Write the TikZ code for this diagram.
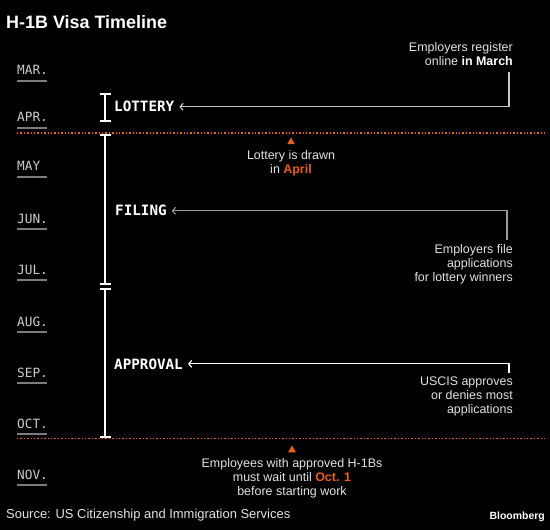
\documentclass[tikz,border=0pt]{standalone}
\usepackage{fontspec}
\setmainfont{Liberation Sans}
\newfontfamily\monofont{DejaVu Sans Mono}
\usetikzlibrary{arrows.meta,positioning,calc,shapes.geometric}
\definecolor{fog}{HTML}{E2E2E2}
\definecolor{rule}{HTML}{7C7C7C}
\definecolor{haze}{HTML}{C8C8C8}
\definecolor{slate}{HTML}{9A9A9A}
\definecolor{ember}{HTML}{E8601C}
\tikzset{
  month/.style={anchor=base west,inner sep=0pt,text=fog!90!black,font=\monofont\fontsize{12.8}{14}\selectfont},
  monthline/.style={draw=rule,line width=1.6bp},
  phase/.style={anchor=base west,inner sep=0pt,text=white,font=\monofont\bfseries\fontsize{14.3}{16}\selectfont},
  note/.style={inner sep=0pt,text=fog,font=\fontsize{12.5}{14}\selectfont},
  conn/.style={{Straight Barb[length=3bp,width=7bp]}-,line width=1.1bp,shorten <=5bp},
  span/.style={{Bar[width=11bp]}-{Bar[width=11bp]},draw=white,line width=2bp},
  cutoff/.style={draw=ember,line width=1.3bp,dash pattern=on 1.3bp off 2.1bp},
  flag/.style={regular polygon,regular polygon sides=3,fill=ember,minimum size=9bp,inner sep=0pt},
}
\begin{document}
\begin{tikzpicture}[x=1bp,y=-1bp]
  \path[use as bounding box,fill=black] (0,0) rectangle (550,530);
  \node[anchor=base west,inner sep=0pt,text=white,font=\bfseries\fontsize{18}{20}\selectfont] (title) at (6,29) {H-1B Visa Timeline};
  % months
  \foreach \m/\u [count=\i] in {MAR./81,APR./128,MAY/177,JUN./229,JUL./280,AUG./332,SEP./383,OCT./434,NOV./485}{
    \node[month] (m\i) at (17,\u-6) {\m};
    \draw[monthline] (17,\u) -- (47,\u);
  }
  % cut-off dates
  \draw[cutoff] (17,133) -- (545,133);
  \draw[cutoff] (17,438.5) -- (545,438.5);
  % timeline bar
  \draw[span] (105,93) -- (105,122);
  \draw[span] (105,134) -- (105,284.5);
  \draw[span] (105,287.5) -- (105,438);
  % phases
  \node[phase] (lottery) at (114,112) {LOTTERY};
  \node[phase] (filing) at (115,216) {FILING};
  \node[phase] (approval) at (114,369) {APPROVAL};
  % notes
  \node[note,anchor=north east,align=right] (regnote) at (513,42.5) {Employers register\\online {\bfseries\color{white}in March}};
  \node[note,anchor=north,align=center] (drawnote) at (291,150.5) {Lottery is drawn\\in {\bfseries\color{ember}April}};
  \node[flag] (drawflag) at (291,142) {};
  \node[note,anchor=north east,align=right] (filenote) at (513,244) {Employers file\\applications\\for lottery winners};
  \node[note,anchor=north east,align=right] (approvenote) at (513,377) {USCIS approves\\or denies most\\applications};
  \node[note,anchor=north,align=center] (waitnote) at (292,458) {Employees with approved H-1Bs\\must wait until {\bfseries\color{ember}Oct. 1}\\before starting work};
  \node[flag] (waitflag) at (292,450) {};
  % connectors
  \draw[conn,draw=haze] (lottery.east) -| ([xshift=-4bp,yshift=-6bp]regnote.south east);
  \draw[conn,draw=slate] (filing.east) -| ([xshift=-6bp,yshift=4bp]filenote.north east);
  \draw[conn,draw=white] (approval.east) -| ([xshift=-4bp,yshift=4bp]approvenote.north east);
  % footer
  \node[anchor=base west,inner sep=0pt,text=fog,font=\fontsize{13}{15}\selectfont] (source) at (6,518) {Source: US Citizenship and Immigration Services};
  \node[anchor=base east,inner sep=0pt,text=white,font=\bfseries\fontsize{10.5}{12}\selectfont] (brand) at (545,519) {Bloomberg};
\end{tikzpicture}
\end{document}
